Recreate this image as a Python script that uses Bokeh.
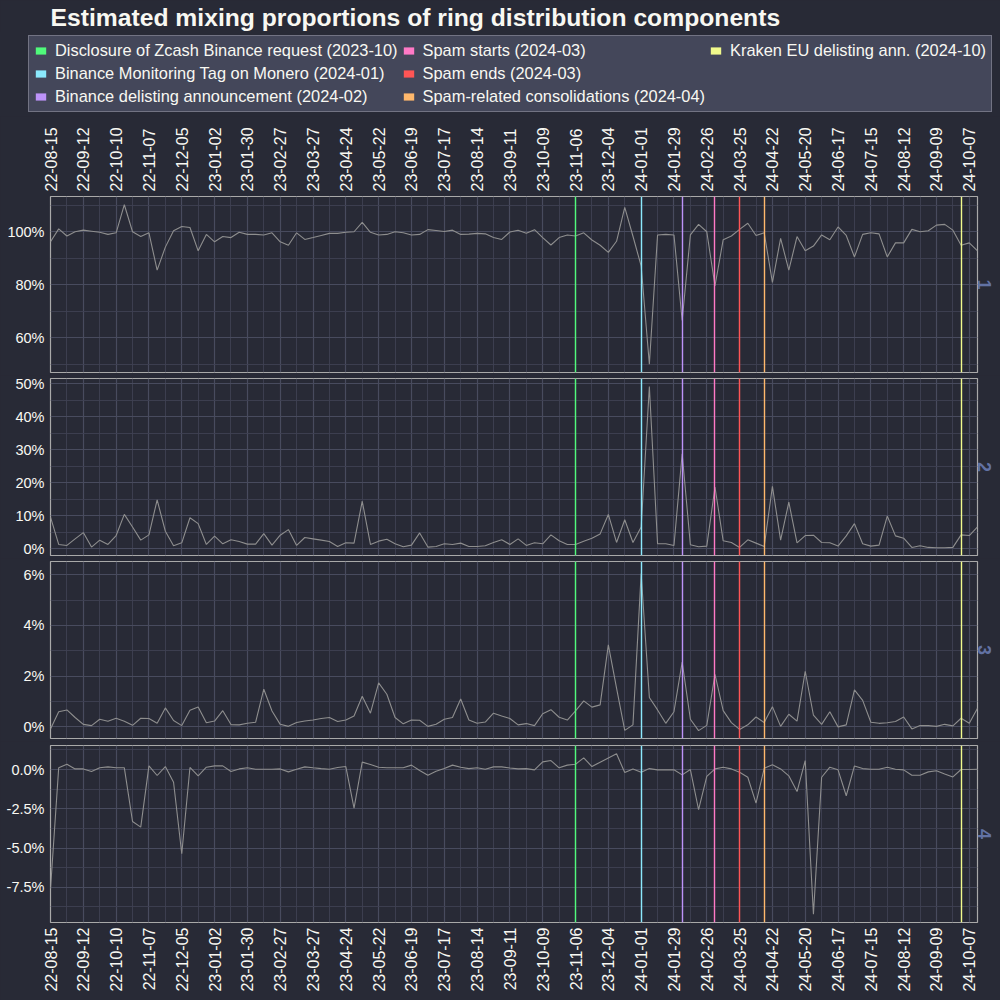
import numpy as np
import pandas as pd
from bokeh.plotting import figure
from bokeh.models import (ColumnDataSource, Range1d, DatetimeAxis, LinearAxis, FixedTicker, Grid,
                          DatetimeTickFormatter, PrintfTickFormatter, Legend, LegendItem, Title)
from bokeh.layouts import column
from bokeh.embed import file_html
from bokeh.resources import INLINE

# ---------------- data ----------------
weeks = pd.date_range("2022-08-15", periods=114, freq="7D")

comp1 = [96.2, 101.1, 98.4, 100.0, 100.6, 100.2, 99.8, 99.0, 99.6, 110.2,
         100.0, 98.2, 99.6, 85.5, 94.2, 100.4, 102.0, 101.6, 92.8, 99.0,
         96.2, 98.2, 97.8, 99.8, 99.0, 99.0, 98.8, 99.6, 96.2, 94.9,
         99.6, 97.1, 97.8, 98.6, 99.4, 99.4, 99.8, 100.0, 103.5, 99.8,
         98.8, 99.0, 100.0, 99.6, 98.8, 99.0, 100.8, 100.5, 100.1, 100.6,
         99.0, 99.1, 99.4, 99.2, 97.8, 97.1, 99.9, 100.6, 99.4, 100.8,
         97.8, 95.0, 97.8, 98.8, 98.4, 99.6, 96.9, 94.9, 92.2, 96.4,
         109.2, 98.3, 87.1, 50.0, 98.8, 99.0, 98.8, 66.5, 98.8, 102.8,
         100.0, 79.6, 97.0, 98.4, 100.9, 103.2, 98.6, 99.6, 80.9, 97.5,
         85.5, 98.2, 92.8, 94.6, 98.8, 97.0, 101.8, 98.6, 90.5, 99.0,
         99.6, 99.2, 90.5, 95.8, 95.8, 100.9, 100.0, 100.4, 102.5, 102.8,
         100.6, 94.9, 95.8, 92.8]

comp2 = [9.6, 1.3, 1.0, 3.0, 4.9, 0.5, 2.6, 1.3, 4.0, 10.4,
         6.6, 2.6, 4.2, 14.8, 5.3, 0.9, 1.8, 9.4, 7.6, 1.3,
         3.8, 1.5, 2.7, 2.2, 1.4, 1.4, 4.6, 1.1, 4.1, 5.8,
         1.0, 3.4, 3.0, 2.6, 2.2, 0.7, 1.8, 1.7, 14.4, 1.3,
         2.3, 2.9, 1.5, 0.6, 1.1, 4.8, 0.5, 0.7, 1.5, 1.3,
         1.7, 0.7, 0.7, 0.9, 1.9, 2.7, 1.3, 3.0, 1.0, 1.8,
         1.5, 4.2, 2.4, 1.3, 1.3, 2.3, 3.2, 4.5, 10.4, 1.9,
         8.8, 1.9, 6.6, 49.2, 1.5, 1.5, 1.0, 28.8, 1.2, 0.6,
         0.8, 18.7, 2.4, 1.9, 0.4, 2.7, 1.7, 0.7, 18.9, 2.6,
         14.1, 1.8, 4.0, 4.1, 1.9, 1.8, 0.8, 3.9, 7.6, 1.5,
         0.8, 1.1, 9.9, 3.9, 3.2, 0.4, 0.9, 0.4, 0.3, 0.3,
         0.4, 4.2, 4.0, 6.6]

comp3 = [-0.09, 0.59, 0.66, 0.36, 0.09, 0.04, 0.29, 0.21, 0.33, 0.21,
         0.05, 0.33, 0.32, 0.13, 0.74, 0.24, 0.04, 0.65, 0.78, 0.15,
         0.22, 0.63, 0.08, 0.07, 0.13, 0.17, 1.48, 0.62, 0.09, 0.01,
         0.16, 0.22, 0.26, 0.32, 0.36, 0.20, 0.26, 0.42, 1.20, 0.53,
         1.73, 1.28, 0.36, 0.11, 0.26, 0.25, 0.01, 0.09, 0.29, 0.36,
         1.09, 0.26, 0.13, 0.18, 0.53, 0.42, 0.32, 0.07, 0.12, 0.04,
         0.51, 0.67, 0.37, 0.26, 0.62, 1.02, 0.77, 0.86, 3.23, 1.52,
         -0.15, 0.07, 6.05, 1.15, 0.66, 0.13, 0.59, 2.55, 0.29, -0.16,
         0.05, 2.07, 0.63, 0.16, -0.11, 0.07, 0.38, 0.16, 0.79, 0.01,
         0.49, 0.22, 2.19, 0.45, 0.09, 0.59, -0.01, 0.07, 1.45, 1.04,
         0.17, 0.13, 0.15, 0.20, 0.38, -0.09, 0.04, 0.04, 0.01, 0.09,
         0.03, 0.33, 0.13, 0.73]

comp4 = [-7.6, 0.11, 0.34, 0.04, 0.04, -0.13, 0.11, 0.17, 0.11, 0.11,
         -3.31, -3.67, 0.23, -0.38, 0.19, -0.81, -5.36, 0.13, -0.40, 0.15,
         0.23, 0.23, -0.13, 0.04, 0.11, 0.02, 0.02, 0.02, 0.04, -0.15,
         0.02, 0.17, 0.11, 0.06, 0.02, 0.13, 0.19, -2.46, 0.47, 0.32,
         0.15, 0.11, 0.11, 0.11, 0.28, -0.06, -0.36, -0.11, 0.06, 0.28,
         0.15, 0.06, 0.11, 0.02, 0.17, 0.17, 0.10, 0.04, 0.06, -0.02,
         0.49, 0.57, 0.11, 0.28, 0.34, 0.74, 0.19, 0.47, 0.74, 1.0,
         -0.19, 0.04, -0.17, 0.06, -0.02, -0.02, -0.02, -0.34, 0.0, -2.56,
         -0.44, 0.04, 0.15, 0.04, -0.17, -0.49, -2.14, 0.08, 0.30, 0.04,
         -0.40, -1.40, 0.57, -9.22, -0.49, 0.15, -0.02, -1.67, 0.23, 0.06,
         0.02, 0.02, 0.15, 0.02, -0.02, -0.36, -0.36, -0.15, -0.08, -0.28,
         -0.47, 0.0, 0.0, 0.02]

series = [comp1, comp2, comp3, comp4]
panel_names = ["1", "2", "3", "4"]

event_labels = ["Disclosure of Zcash Binance request (2023-10)",
                "Binance Monitoring Tag on Monero (2024-01)",
                "Binance delisting announcement (2024-02)",
                "Spam starts (2024-03)",
                "Spam ends (2024-03)",
                "Spam-related consolidations (2024-04)",
                "Kraken EU delisting ann. (2024-10)"]
event_dates = pd.to_datetime(["2023-11-06", "2024-01-01", "2024-02-05", "2024-03-04",
                              "2024-03-25", "2024-04-15", "2024-09-30"])
event_colors = ["#50fa7b", "#8be9fd", "#bd93f9", "#ff79c6", "#ff5555", "#ffb86c", "#f1fa8c"]

y_major = [[60, 80, 100], [0, 10, 20, 30, 40, 50], [0, 2, 4, 6], [-7.5, -5.0, -2.5, 0.0]]
y_minor = [[50, 70, 90, 110], [5, 15, 25, 35, 45], [1, 3, 5], [-8.75, -6.25, -3.75, -1.25, 1.25]]
y_fmt = ["%d%%", "%d%%", "%d%%", "%.1f%%"]
y_lims = [(46.9, 113.3), (-2.05, 51.6), (-0.47, 6.53), (-9.74, 1.53)]

title_text = "Estimated mixing proportions of ring distribution components"

# ---------------- style ----------------
BG = "#282a36"
FG = "#f8f8f2"
FONT = "Liberation Sans"

x_ms = (weeks.asi8 // 10**6).tolist()
x_major = x_ms[::4]
x_minor = x_ms[2::4]

date_fmt = DatetimeTickFormatter(microseconds="%y-%m-%d", milliseconds="%y-%m-%d", seconds="%y-%m-%d",
                                 minsec="%y-%m-%d", minutes="%y-%m-%d", hourmin="%y-%m-%d",
                                 hours="%y-%m-%d", days="%y-%m-%d", months="%y-%m-%d", years="%y-%m-%d")


def x_axis():
    return DatetimeAxis(ticker=FixedTicker(ticks=x_major), formatter=date_fmt,
                        major_label_orientation=np.pi / 2, axis_line_color=None,
                        major_tick_line_color=None, minor_tick_line_color=None,
                        major_tick_out=0, major_tick_in=0, minor_tick_out=0, minor_tick_in=0,
                        major_label_standoff=5, major_label_text_color=FG,
                        major_label_text_font=FONT, major_label_text_font_size="16px")


def make_fig(k, height, top, bottom):
    p = figure(width=1000, height=height,
               x_range=Range1d(weeks[0], weeks[-1]), y_range=Range1d(*y_lims[k]),
               x_axis_type=None, y_axis_type=None, toolbar_location=None, output_backend="svg",
               min_border_left=50, min_border_right=23, min_border_top=top, min_border_bottom=bottom,
               background_fill_color=BG, border_fill_color=BG,
               outline_line_color="#a9a9a9", outline_line_width=1.2)
    xt = FixedTicker(ticks=x_major, minor_ticks=x_minor)
    yt = FixedTicker(ticks=y_major[k], minor_ticks=y_minor[k])
    for dim, t in ((0, xt), (1, yt)):
        p.add_layout(Grid(dimension=dim, ticker=t, grid_line_color="#484b5e", grid_line_width=1.2,
                          minor_grid_line_color="#3e4152", minor_grid_line_width=0.9))
    ya = LinearAxis(ticker=yt, formatter=PrintfTickFormatter(format=y_fmt[k]), axis_line_color=None,
                    major_tick_line_color=None, minor_tick_line_color=None,
                    major_tick_out=0, major_tick_in=0, minor_tick_out=0, minor_tick_in=0,
                    major_label_standoff=6, major_label_text_color=FG,
                    major_label_text_font=FONT, major_label_text_font_size="14.5px")
    p.add_layout(ya, "left")

    src = ColumnDataSource(dict(x=weeks, y=series[k]))
    p.line("x", "y", source=src, line_color="#8e8e8e", line_width=1.1)

    ev = ColumnDataSource(dict(x=event_dates, color=event_colors))
    p.vspan(x="x", line_color="color", line_width=1.4, source=ev)

    p.add_layout(Title(text=panel_names[k], align="center", text_color="#6272a4",
                       text_font=FONT, text_font_size="18px", text_font_style="bold",
                       standoff=1), "right")
    return p


# header with title and legend (its own frame spans the full width)
p0 = figure(width=1000, height=116, x_range=Range1d(weeks[0], weeks[-1]), y_range=Range1d(0, 1),
            x_axis_type=None, y_axis_type=None, toolbar_location=None, output_backend="svg",
            min_border_left=0, min_border_right=0, min_border_top=0, min_border_bottom=0,
            background_fill_color=None, border_fill_color=BG, outline_line_color=None)
p0.outline_line_alpha = 0
p0.outline_line_width = 0
p0.title.text = title_text
p0.title.text_font = FONT
p0.title.text_font_size = "24.7px"
p0.title.text_font_style = "bold"
p0.title.text_color = FG
p0.title.align = "left"
p0.title.offset = 50
p0.title.standoff = 2

# zero-size legend proxies carrying the event colours
ev0 = ColumnDataSource(dict(x=event_dates, y=np.full(len(event_dates), 0.5), color=event_colors))
proxy = p0.rect(x="x", y="y", width=0, height=0, fill_color="color", line_color=None, source=ev0)
items = [LegendItem(label=lab, renderers=[proxy], index=i) for i, lab in enumerate(event_labels)]

legend = Legend(items=items, location=(28, 4), orientation="vertical", nrows=3,
                background_fill_color="#44475a", background_fill_alpha=1.0,
                border_line_color="#a0a0ab", border_line_width=1,
                label_text_color=FG, label_text_font=FONT, label_text_font_size="16.4px",
                glyph_width=13, glyph_height=9, label_standoff=8, spacing=4, padding=5,
                label_height=19, margin=0)
p0.add_layout(legend)

p1 = make_fig(0, 259, 80, 3)
p2 = make_fig(1, 183, 3, 3)
p3 = make_fig(2, 183, 3, 3)
p4 = make_fig(3, 259, 4, 78)

p1.add_layout(x_axis(), "above")
p4.add_layout(x_axis(), "below")

inner = column(p1, p2, p3, p4, spacing=0, styles={"background-color": BG})
layout = column(p0, inner, spacing=0, styles={"background-color": BG})
html = file_html(layout, INLINE)
html = html.replace("<body>", '<body style="background-color:#282a36; margin:0;">', 1)
open("out.html", "w").write(html)
